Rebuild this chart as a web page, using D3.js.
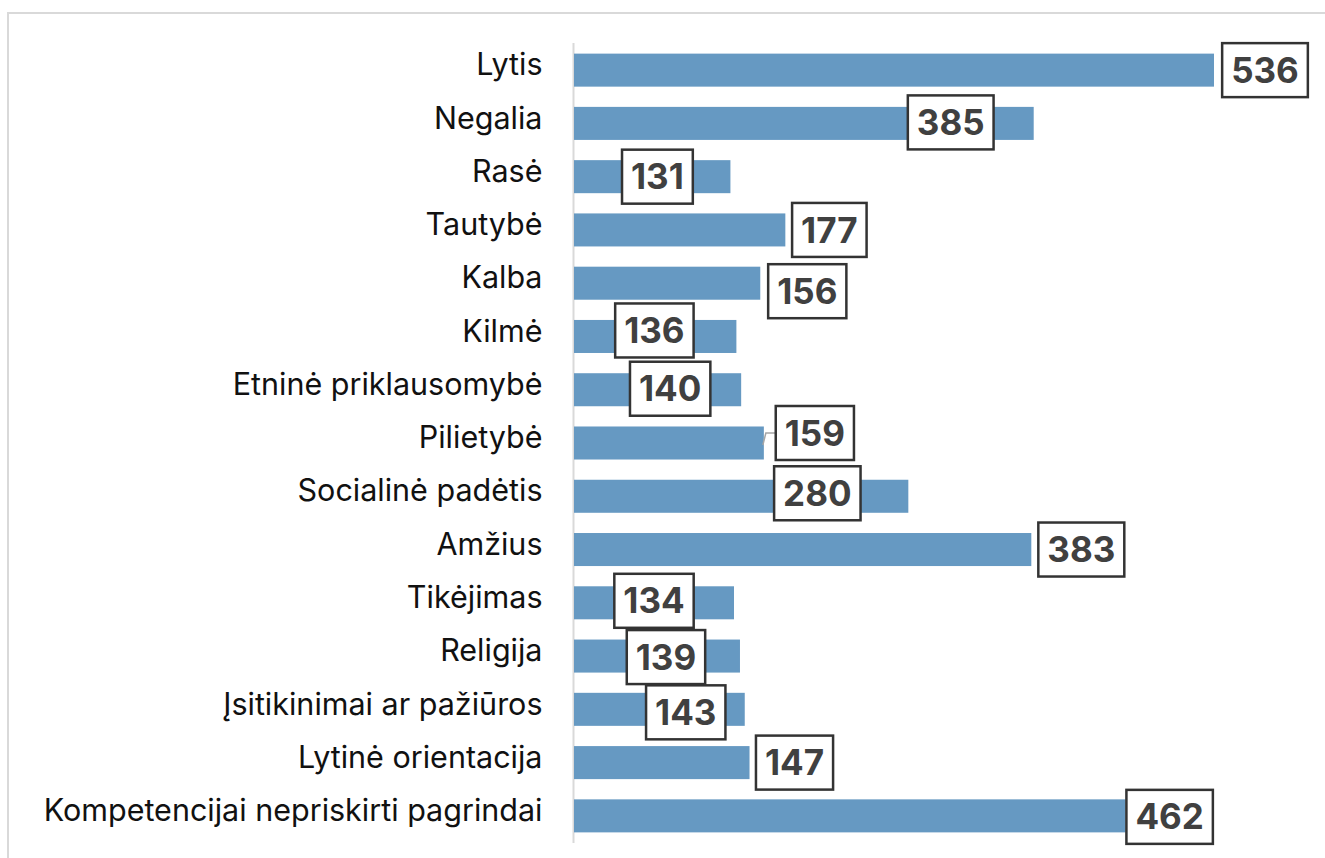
<!DOCTYPE html>
<html>
<head>
<meta charset="utf-8">
<script src="https://cdn.jsdelivr.net/npm/d3@7"></script>
<style>
  body { margin: 0; background: #fff; }
</style>
</head>
<body>
<div id="chart"></div>
<script>
var categories = ["Lytis", "Negalia", "Rasė ", "Tautybė", "Kalba", "Kilmė",
    "Etninė priklausomybė", "Pilietybė", "Socialinė padėtis", "Amžius",
    "Tikėjimas", "Religija", "Įsitikinimai ar pažiūros", "Lytinė orientacija",
    "Kompetencijai nepriskirti pagrindai"];
var values = [536, 385, 131, 177, 156, 136, 140, 159, 280, 383, 134, 139, 143, 147, 462];

// where each value box sits, relative to the bar end (px)
var labelDx = [51, -83, -73, 44, 47, -82, -71, 51, -91, 50, -80, -74, -59, 45, 44];
var labelDy = [0, -1, 0, 0, 8, -6, -1, -10, -3, 0, -2, 1, 3, 0, 1];

var width = 1325, height = 858;

var svg = d3.select("#chart").append("svg")
    .attr("width", width)
    .attr("height", height);

// light frame round the chart area
svg.append("rect")
    .attr("x", 8).attr("y", 13)
    .attr("width", width + 10).attr("height", height + 10)
    .attr("fill", "none")
    .attr("stroke", "#d9d9d9")
    .attr("stroke-width", 2);

var x = d3.scaleLinear().domain([0, 536]).range([574, 1214]);
var y = d3.scaleBand().domain(categories)
    .range([43.5, 842.5])
    .paddingInner(0.38)
    .paddingOuter(0.19);

// category axis
var yAxis = svg.append("g")
    .attr("transform", "translate(573.5,0)")
    .call(d3.axisLeft(y).tickSize(0).tickPadding(31));
yAxis.select(".domain").attr("stroke", "#d9d9d9").attr("stroke-width", 2)
    .attr("d", "M0,43V843");
yAxis.selectAll("text")
    .attr("font-family", "Inter, 'Noto Sans', sans-serif")
    .attr("font-size", 30.5)
    .attr("dy", "0.17em")
    .attr("fill", "#111");

var rows = categories.map(function(c, i) { return { cat: c, val: values[i], i: i }; });

svg.append("g").selectAll("rect")
    .data(rows)
    .enter()
    .append("rect")
    .attr("x", x(0))
    .attr("y", function(d) { return y(d.cat); })
    .attr("width", function(d) { return x(d.val) - x(0); })
    .attr("height", y.bandwidth())
    .attr("fill", "#6699c2");

// leader line for the one label that is pulled away from its bar
var li = 7;
var lx = x(values[li]), ly = y(categories[li]) + y.bandwidth() / 2;
svg.append("path")
    .attr("d", "M" + (lx - 1) + "," + (ly + 2) + "L" + (lx + 2) + "," + (ly + labelDy[li])
        + "L" + (lx + labelDx[li] - 38) + "," + (ly + labelDy[li]))
    .attr("fill", "none")
    .attr("stroke", "#a6a6a6")
    .attr("stroke-width", 1.5);

var labels = svg.append("g").selectAll("g")
    .data(rows)
    .enter()
    .append("g")
    .attr("transform", function(d) {
        return "translate(" + (x(d.val) + labelDx[d.i]) + "," +
            (y(d.cat) + y.bandwidth() / 2 + labelDy[d.i]) + ")";
    });

var boxes = labels.append("rect")
    .attr("fill", "#fff")
    .attr("stroke", "#333")
    .attr("stroke-width", 2.5);

var texts = labels.append("text")
    .attr("text-anchor", "middle")
    .attr("dy", "0.36em")
    .attr("font-family", "Inter, 'Noto Sans', sans-serif")
    .attr("font-weight", 700)
    .attr("font-size", 35)
    .attr("fill", "#404040")
    .text(function(d) { return d.val; });

texts.each(function(d) {
    var w = this.getComputedTextLength() + 18;
    d3.select(this.previousSibling)
        .attr("x", -w / 2).attr("y", -27)
        .attr("width", w).attr("height", 54);
});
</script>
</body>
</html>
